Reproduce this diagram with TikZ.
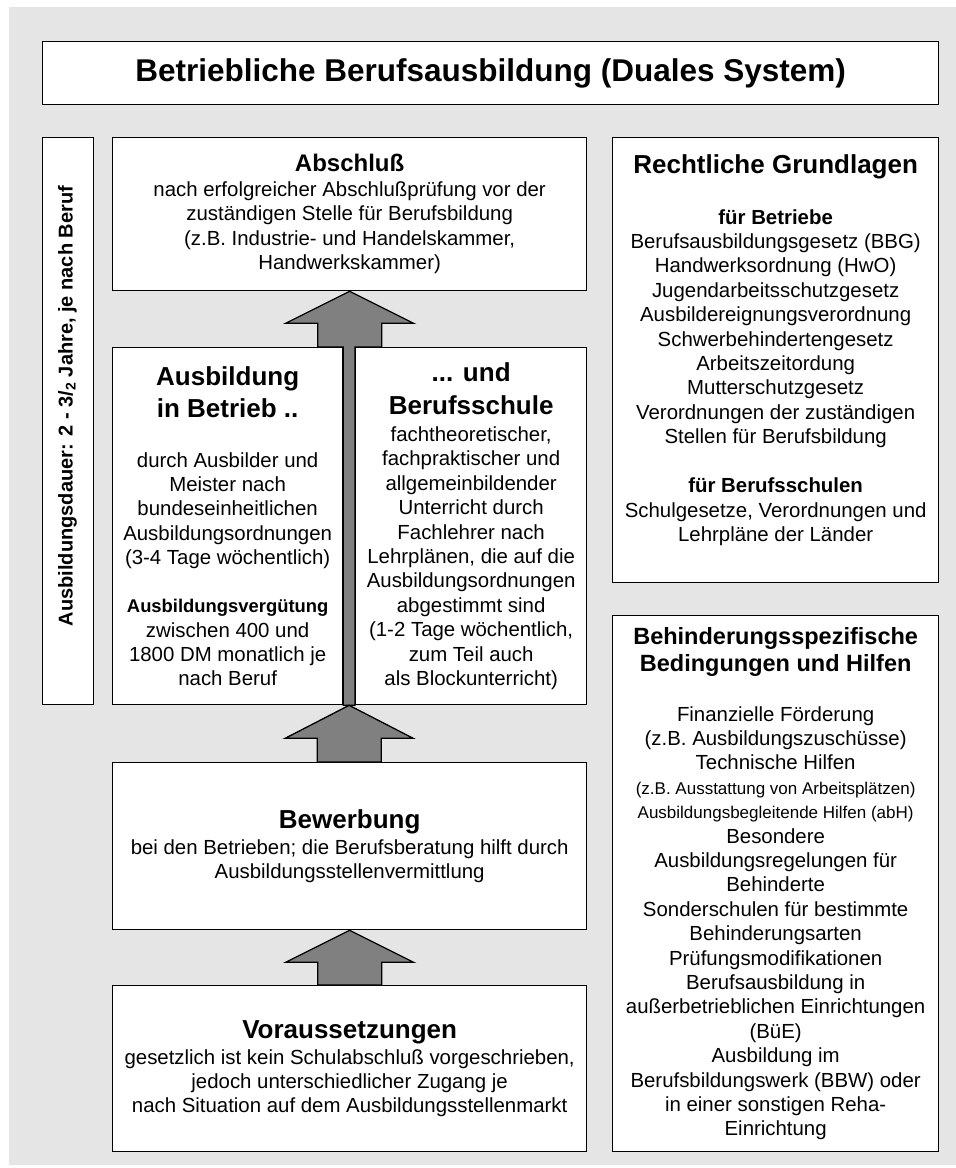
\documentclass[tikz,border=0pt]{standalone}
\usepackage{fontspec}
\setmainfont{Liberation Sans}
\usetikzlibrary{calc}
\definecolor{backdrop}{HTML}{E5E5E5}
\definecolor{arrowgray}{HTML}{808080}
\newcommand{\titlefont}{\fontsize{31.5}{36}\selectfont\bfseries}
\newcommand{\boxhead}{\fontsize{26}{30}\selectfont\bfseries}
\newcommand{\subhead}{\fontsize{23.5}{27}\selectfont\bfseries}
\newcommand{\smallline}{\fontsize{17}{20}\selectfont}

\begin{document}
\begin{tikzpicture}[x=1pt, y=-1pt,
    panel/.style={draw, line width=1.3pt, fill=white, anchor=north west, align=center, inner sep=0pt, font=\fontsize{20.4}{24.4}\selectfont},
    fat arrow/.style={draw, line width=1.3pt, fill=arrowgray, line join=miter},
]

% Background
\useasboundingbox (0,0) rectangle (956,1168);
\fill[backdrop] (9,7) rectangle (956,1165);

% Title
\node[panel, minimum width=896, minimum height=63] (title) at (42,41)
    {\titlefont Betriebliche Berufsausbildung (Duales System)};

% Duration bar
\node[panel, minimum width=51, minimum height=567] (dauer) at (42,137) {};
\node[rotate=90, font=\fontsize{20}{24}\selectfont\bfseries] (dauer-text) at (67.5,406)
    {Ausbildungsdauer: 2 - 3/\textsubscript{2} Jahre, je nach Beruf};

% Main column
\node[panel, minimum width=474, minimum height=153] (abschluss) at (112,137) {
    {\fontsize{24}{28}\selectfont\bfseries Abschluß}\\
    nach erfolgreicher Abschlußprüfung vor der\\
    zuständigen Stelle für Berufsbildung\\
    (z.B. Industrie- und Handelskammer,\\
    Handwerkskammer)
};

\node[panel, minimum width=230, minimum height=357] (betrieb) at (112,347) {
    {\boxhead Ausbildung}\\[7.6pt]
    {\boxhead in Betrieb ..}\\[25.6pt]
    durch Ausbilder und\\
    Meister nach\\
    bundeseinheitlichen\\
    Ausbildungsordnungen\\
    (3-4 Tage wöchentlich)\\[23.6pt]
    {\fontsize{18.4}{22}\selectfont\bfseries Ausbildungsvergütung}\\
    zwischen 400 und\\
    1800 DM monatlich je\\
    nach Beruf
};

\node[panel, minimum width=231, minimum height=357] (schule) at (355,347) {
    {\boxhead ... und}\\[8.6pt]
    {\boxhead Berufsschule}\\[2.6pt]
    fachtheoretischer,\\
    fachpraktischer und\\
    allgemeinbildender\\
    Unterricht durch\\
    Fachlehrer nach\\
    Lehrplänen, die auf die\\
    Ausbildungsordnungen\\
    abgestimmt sind\\
    (1-2 Tage wöchentlich,\\
    zum Teil auch\\
    als Blockunterricht)
};

\node[panel, minimum width=474, minimum height=167] (bewerbung) at (112,762) {
    {\boxhead Bewerbung}\\[1.6pt]
    bei den Betrieben; die Berufsberatung hilft durch\\
    Ausbildungsstellenvermittlung
};

\node[panel, minimum width=474, minimum height=166] (voraus) at (112,985) {
    {\boxhead Voraussetzungen}\\[1.6pt]
    gesetzlich ist kein Schulabschluß vorgeschrieben,\\
    jedoch unterschiedlicher Zugang je\\
    nach Situation auf dem Ausbildungsstellenmarkt
};

% Right column
\node[panel, minimum width=326, minimum height=445] (recht) at (612,137) {
    {\boxhead Rechtliche Grundlagen}\\[26.6pt]
    {\bfseries für Betriebe}\\
    Berufsausbildungsgesetz (BBG)\\
    Handwerksordnung (HwO)\\
    Jugendarbeitsschutzgesetz\\
    Ausbildereignungsverordnung\\
    Schwerbehindertengesetz\\
    Arbeitszeitordung\\
    Mutterschutzgesetz\\
    Verordnungen der zuständigen\\
    Stellen für Berufsbildung\\[24.6pt]
    {\bfseries für Berufsschulen}\\
    Schulgesetze, Verordnungen und\\
    Lehrpläne der Länder\\
    \mbox{}
};

\node[panel, minimum width=326, minimum height=536] (behinderung) at (612,615) {
    {\subhead Behinderungsspezifische}\\[2.6pt]
    {\subhead Bedingungen und Hilfen}\\[25.6pt]
    Finanzielle Förderung\\
    (z.B. Ausbildungszuschüsse)\\
    Technische Hilfen\\
    {\smallline (z.B. Ausstattung von Arbeitsplätzen)}\\
    {\smallline Ausbildungsbegleitende Hilfen (abH)}\\
    Besondere\\
    Ausbildungsregelungen für\\
    Behinderte\\
    Sonderschulen für bestimmte\\
    Behinderungsarten\\
    Prüfungsmodifikationen\\
    Berufsausbildung in\\
    außerbetrieblichen Einrichtungen\\
    (BüE)\\
    Ausbildung im\\
    Berufsbildungswerk (BBW) oder\\
    in einer sonstigen Reha-\\
    Einrichtung
};

% Block arrows
\coordinate (gap) at ($(betrieb.south east)!0.5!(schule.south west)$);
\path[fat arrow] (abschluss.south) -- ++(64,32) -- ++(-32,0) |- (schule.north west)
    -- (schule.south west) -- (betrieb.south east) -- (betrieb.north east)
    -| ($(abschluss.south)+(-32,32)$) -- ++(-32,0) -- cycle;
\path[fat arrow] (gap) -- ++(64,33) -- ++(-32,0) |- (bewerbung.north)
    -- ($(gap |- bewerbung.north)+(-32,0)$) -- ($(gap)+(-32,33)$) -- ++(-32,0) -- cycle;
\path[fat arrow] (bewerbung.south) -- ++(64,32) -- ++(-32,0) |- (voraus.north)
    -- ($(voraus.north)+(-32,0)$) -- ($(bewerbung.south)+(-32,32)$) -- ++(-32,0) -- cycle;

\end{tikzpicture}
\end{document}
